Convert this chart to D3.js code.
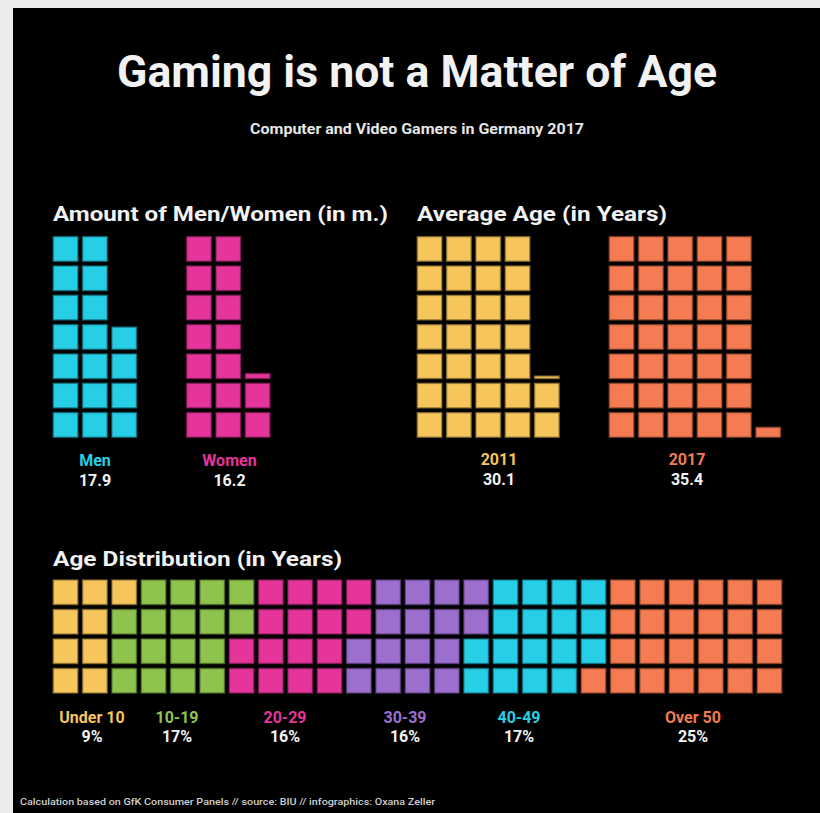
<!DOCTYPE html>
<html lang="en">
<head>
    <meta charset="UTF-8">
    <title>Gaming is not a Matter of Age</title>
    <script src="https://d3js.org/d3.v7.min.js"></script>
    <style>
        body {
            margin: 0;
            padding: 0;
            background: #ececec;
        }
        svg text {
            font-family: Roboto, "Open Sans", sans-serif;
            font-weight: bold;
        }
        svg text.footer {
            font-weight: 500;
        }
    </style>
</head>
<body>
    <div id="chart"></div>
    <script>
        // Data read from the infographic
        const genderLabels = ['Men', 'Women'];
        const genderValues = [17.9, 16.2];          // millions
        const yearLabels = ['2011', '2017'];
        const avgAgeValues = [30.1, 35.4];          // years
        const ageGroups = ['Under 10', '10-19', '20-29', '30-39', '40-49', 'Over 50'];
        const agePercents = [9, 17, 16, 16, 17, 25];

        const genderColors = ['#27cfe6', '#e5359b'];
        const yearColors = ['#f6c55c', '#f47b52'];
        const ageColors = ['#f6c55c', '#8ec34d', '#e5359b', '#9c6fcf', '#27cfe6', '#f47b52'];

        const width = 820, height = 813;
        const PITCH = 29.33, SIZE = 24.5;

        const svg = d3.select('#chart')
            .append('svg')
            .attr('width', width)
            .attr('height', height);

        // gray page edge + black panel
        svg.append('rect').attr('width', width).attr('height', height).attr('fill', '#ececec');
        svg.append('rect').attr('x', 13).attr('y', 8).attr('width', width - 13).attr('height', height - 8).attr('fill', '#000');

        // titles
        svg.append('text')
            .attr('x', 417).attr('y', 87)
            .attr('text-anchor', 'middle')
            .attr('font-size', 44)
            .attr('textLength', 600).attr('lengthAdjust', 'spacingAndGlyphs')
            .attr('fill', '#f2f2f2')
            .text('Gaming is not a Matter of Age');

        svg.append('text')
            .attr('x', 417).attr('y', 134)
            .attr('text-anchor', 'middle')
            .attr('font-size', 14)
            .attr('textLength', 334).attr('lengthAdjust', 'spacingAndGlyphs')
            .attr('fill', '#e6e6e6')
            .text('Computer and Video Gamers in Germany 2017');

        function header(x, y, len, txt) {
            svg.append('text')
                .attr('x', x).attr('y', y)
                .attr('font-size', 21)
                .attr('textLength', len).attr('lengthAdjust', 'spacingAndGlyphs')
                .attr('fill', '#f2f2f2')
                .text(txt);
        }
        header(53, 221, 335, 'Amount of Men/Women (in m.)');
        header(417, 221, 250, 'Average Age (in Years)');
        header(53, 566, 289, 'Age Distribution (in Years)');

        // cell scale: index -> offset
        const cell = d3.scaleLinear().domain([0, 1]).range([0, PITCH]);

        function drawCell(g, x, y, h, color) {
            g.append('rect')
                .attr('x', x).attr('y', y + SIZE - h)
                .attr('width', SIZE).attr('height', h)
                .attr('fill', color)
                .attr('stroke', d3.color(color).darker(1.5))
                .attr('stroke-width', 1.5)
                .attr('stroke-opacity', 0.7);
        }

        // vertical waffles (7 per column, filled bottom-up)
        const ROWS = 7, top0 = 236.7;
        function verticalWaffle(x0, value, color) {
            const g = svg.append('g');
            const n = Math.ceil(value);
            d3.range(n).forEach(i => {
                const frac = Math.min(1, value - i);
                const col = Math.floor(i / ROWS);
                const row = ROWS - 1 - (i % ROWS);
                drawCell(g, x0 + cell(col), top0 + cell(row), SIZE * frac, color);
            });
        }

        function label(x, y1, y2, name, value, color) {
            svg.append('text')
                .attr('x', x).attr('y', y1)
                .attr('text-anchor', 'middle')
                .attr('font-size', 16)
                .attr('fill', color)
                .text(name);
            svg.append('text')
                .attr('x', x).attr('y', y2)
                .attr('text-anchor', 'middle')
                .attr('font-size', 16)
                .attr('fill', '#f2f2f2')
                .text(value);
        }

        const genderX = [53.3, 186.7];
        const genderLabelX = [95, 229.5];
        genderValues.forEach((v, i) => {
            verticalWaffle(genderX[i], v, genderColors[i]);
            label(genderLabelX[i], 466, 486, genderLabels[i], v.toFixed(1), genderColors[i]);
        });

        const yearX = [417.3, 609.3];
        const yearLabelX = [499, 687];
        avgAgeValues.forEach((v, i) => {
            verticalWaffle(yearX[i], v, yearColors[i]);
            label(yearLabelX[i], 465, 485, yearLabels[i], v.toFixed(1), yearColors[i]);
        });

        // age distribution: 4 rows x 25 columns, filled column-wise top to bottom
        const AGE_ROWS = 4, ageX0 = 53.3, ageY0 = 580;
        const rowScale = d3.scaleLinear().domain([0, 1]).range([0, 29.5]);
        const ageCells = agePercents.flatMap((p, gi) => d3.range(p).map(() => gi));
        const ageG = svg.append('g');
        ageCells.forEach((gi, i) => {
            const col = Math.floor(i / AGE_ROWS);
            const row = i % AGE_ROWS;
            drawCell(ageG, ageX0 + cell(col), ageY0 + rowScale(row), SIZE, ageColors[gi]);
        });

        const ageLabelX = [92, 177, 285, 405, 519, 693];
        ageGroups.forEach((name, i) => {
            label(ageLabelX[i], 723, 742, name, agePercents[i] + '%', ageColors[i]);
        });

        // footer
        svg.append('text')
            .attr('class', 'footer')
            .attr('x', 20).attr('y', 805)
            .attr('font-size', 9)
            .attr('textLength', 415).attr('lengthAdjust', 'spacingAndGlyphs')
            .attr('fill', '#cfcfcf')
            .text('Calculation based on GfK Consumer Panels // source: BIU // infographics: Oxana Zeller');
    </script>
</body>
</html>
